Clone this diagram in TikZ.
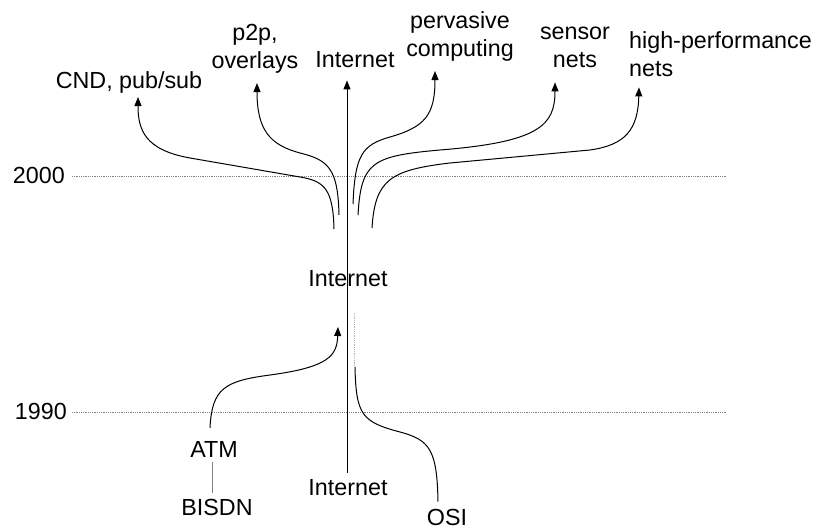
\documentclass[tikz,border=0pt]{standalone}
\usepackage{fontspec}
\setmainfont{Liberation Sans}
\usetikzlibrary{arrows.meta,positioning,calc}
\begin{document}
\begin{tikzpicture}[
    x=1pt, y=-1pt,
    lbl/.style={font=\fontsize{23.3}{28}\selectfont, inner sep=0pt, anchor=base, align=center},
    year/.style={draw=gray, densely dotted, line width=0.8pt},
    flow/.style={line width=1pt, -{Triangle[length=9pt, width=7pt]}},
    branch/.style={line width=1pt}
  ]
    \useasboundingbox (0,0) rectangle (820,529);
    \node[lbl, anchor=base east] (y2000) at (65,184) {2000};
    \node[lbl, anchor=base east] (y1990) at (67,420) {1990};
    \draw[year] ([xshift=7pt]y2000.east) -- ([xshift=662pt]y2000.east);
    \draw[year] ([xshift=5pt]y1990.east) -- ([xshift=660pt]y1990.east);

    \node[lbl] (cnd) at (129,89) {CND, pub/sub};
    \node[lbl] (ptwop) at (255,69) {p2p,\\overlays};
    \node[lbl] (inettop) at (355,68) {Internet};
    \node[lbl] (pervasive) at (460,57) {pervasive\\computing};
    \node[lbl] (sensor) at (575,68) {sensor\\nets};
    \node[lbl, anchor=base west, align=left] (hpnets) at (629,77) {high-performance\\nets};
    \node[lbl] (inetmid) at (348,287) {Internet};
    \node[lbl] (inetlow) at (348,496) {Internet};
    \node[lbl] (atm) at (214,457) {ATM};
    \node[lbl] (bisdn) at (217,515) {BISDN};
    \node[lbl] (osi) at (447,525) {OSI};

    \coordinate (cnd-root) at (334,229);
    \coordinate (ptwop-root) at (339,215);
    \coordinate (perv-root) at (353,204);
    \coordinate (sensor-root) at (358,215);
    \coordinate (hpn-root) at (372,228);
    \coordinate (atm-tip) at (338,327);
    \coordinate (osi-root) at (355,367);

    \draw[flow] ([xshift=-1pt,yshift=7pt]inetlow.north) -- ([xshift=-1pt,yshift=-12pt]inetlow.north |- inettop.south);
    \draw[flow] (cnd-root) .. controls (333,190) and (325,181) .. (300,177) -- (190,158) .. controls (145,150) and (138,130) .. ([xshift=9pt,yshift=-3pt]cnd.south);
    \draw[flow] (ptwop-root) .. controls (338,168) and (328,160) .. (300,153) .. controls (270,145) and (257,130) .. ([xshift=2pt,yshift=-9pt]ptwop.south);
    \draw[flow] (perv-root) .. controls (355,155) and (362,145) .. (390,137) .. controls (425,127) and (435,115) .. ([xshift=-25pt,yshift=-9pt]pervasive.south);
    \draw[flow] (sensor-root) .. controls (361,162) and (372,156) .. (440,150) .. controls (540,142) and (555,125) .. ([xshift=-20pt,yshift=-14pt]sensor.south);
    \draw[flow] (hpn-root) .. controls (375,180) and (390,170) .. (450,163) -- (590,150) .. controls (625,145) and (638,130) .. ([xshift=10pt,yshift=-10pt]hpnets.south west);

    \draw[flow] ([xshift=-4pt,yshift=13pt]atm.north) .. controls (212,388) and (225,381) .. (270,375) .. controls (330,367) and (337,355) .. (atm-tip);
    \draw[gray, line width=1pt, shorten <=5pt, shorten >=6pt] ([xshift=-2pt]atm.south) -- ([xshift=-2pt]atm.south |- bisdn.north);
    \draw[gray!60, densely dotted, line width=0.8pt] ([xshift=-1pt,yshift=54pt]osi-root) -- ([xshift=-1pt]osi-root);
    \draw[branch] (osi-root) .. controls (356,415) and (362,422) .. (400,432) .. controls (430,440) and (437,450) .. ([xshift=-9pt,yshift=7pt]osi.north);
  \end{tikzpicture}
\end{document}
